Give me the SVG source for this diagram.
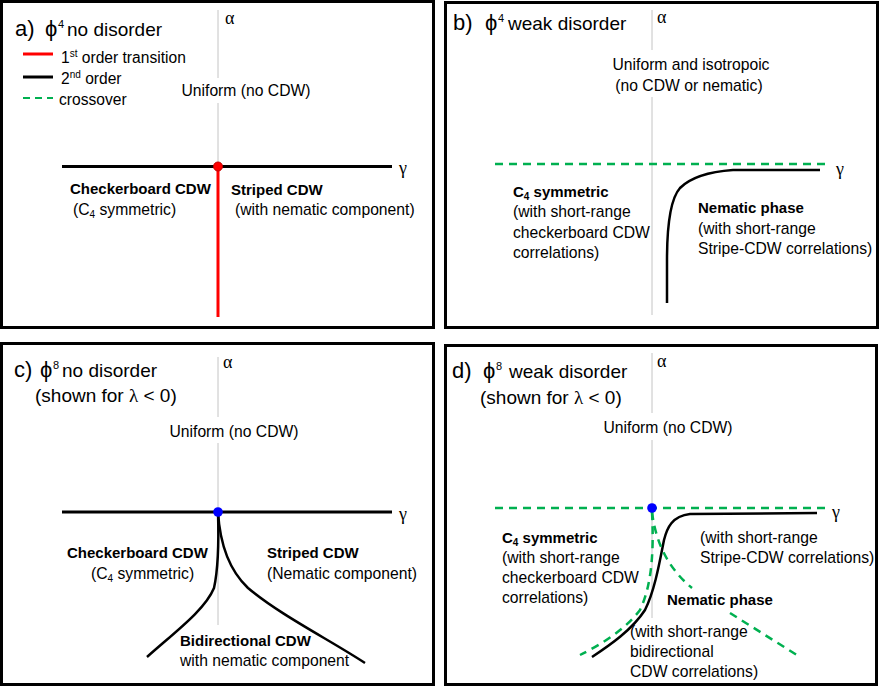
<svg xmlns="http://www.w3.org/2000/svg" width="881" height="688" viewBox="0 0 881 688">
<style>
.frame{fill:#fff;stroke:#000;stroke-width:3}
.axis{stroke:#c4c4c4;stroke-width:1;fill:none}
.line2{stroke:#000;stroke-width:3;fill:none}
.curve{stroke:#000;stroke-width:2.5;fill:none}
.red{stroke:#ff0000;stroke-width:3;fill:none}
.green{stroke:#00b050;stroke-width:2.5;fill:none;stroke-dasharray:8 6}
text{font-family:"Liberation Sans",Arial,sans-serif;fill:#000}
.title{font-size:19px}
.phi{font-size:22px}
.sup{font-size:11px}
.lab{font-size:22px}
.t{font-size:15.7px}
.b{font-size:15px;font-weight:bold}
.leg{font-size:15.6px}
.greek{font-family:"Liberation Serif","Times New Roman",serif;font-size:18px}
</style>
<rect width="881" height="688" fill="#fff"/>

<g id="panel-a">
<rect class="frame" x="1.5" y="1.5" width="432" height="326"/>
<text class="lab" x="15" y="36">a)</text>
<text class="title" x="45" y="36"><tspan class="phi">ϕ</tspan><tspan class="sup" x="58" dy="-8">4</tspan><tspan x="67" dy="8">no disorder</tspan></text>
<g id="legend-a">
<line class="red" x1="23" y1="54" x2="53" y2="54"/>
<text class="leg" x="61" y="63">1<tspan font-size="10" dy="-6">st</tspan><tspan dy="6"> order transition</tspan></text>
<line class="line2" x1="23" y1="77" x2="53" y2="77"/>
<text class="leg" x="61" y="84">2<tspan font-size="10" dy="-6">nd</tspan><tspan dy="6"> order</tspan></text>
<line x1="23" y1="98" x2="53" y2="98" stroke="#00b050" stroke-width="2" stroke-dasharray="7 5"/>
<text class="leg" x="59" y="105">crossover</text>
</g>
<line class="axis" x1="218" y1="10" x2="218" y2="78"/>
<line class="axis" x1="218" y1="103" x2="218" y2="166"/>
<text class="greek" x="225" y="24">α</text>
<text class="greek" x="399" y="174">γ</text>
<text class="t" x="246" y="96" text-anchor="middle">Uniform (no CDW)</text>
<line class="line2" x1="62" y1="166.5" x2="392" y2="166.5"/>
<line class="red" x1="218" y1="166" x2="218" y2="317"/>
<circle cx="218" cy="166.5" r="4.5" fill="#ff0000" stroke="#c00000" stroke-width="1"/>
<text class="b" x="70" y="194">Checkerboard CDW</text>
<text class="t" x="73" y="215">(C<tspan font-size="10" dy="3">4</tspan><tspan dy="-3"> symmetric)</tspan></text>
<text class="b" x="231" y="195">Striped CDW</text>
<text class="t" x="235" y="215">(with nematic component)</text>
</g>

<g id="panel-b">
<rect class="frame" x="445.5" y="2.5" width="432" height="325"/>
<text class="lab" x="453" y="30">b)</text>
<text class="title" x="485" y="30"><tspan class="phi">ϕ</tspan><tspan class="sup" x="498" dy="-8">4</tspan><tspan x="508" dy="8">weak disorder</tspan></text>
<line class="axis" x1="652" y1="10" x2="652" y2="50"/>
<line class="axis" x1="652" y1="97" x2="652" y2="315"/>
<text class="greek" x="657" y="23">α</text>
<text class="greek" x="836" y="175">γ</text>
<text class="t" x="691" y="70" text-anchor="middle">Uniform and isotropoic</text>
<text class="t" x="689" y="91" text-anchor="middle">(no CDW or nematic)</text>
<line class="green" x1="495" y1="164" x2="826" y2="164"/>
<path class="curve" d="M 820 170 L 733 170 C 705 172 688 180 680 188 C 672 197 667 220 667 260 L 667 303"/>
<text class="b" x="513" y="197">C<tspan font-size="10" dy="3">4</tspan><tspan dy="-3"> symmetric</tspan></text>
<text class="t" x="513" y="217">(with short-range</text>
<text class="t" x="513" y="238">checkerboard CDW</text>
<text class="t" x="513" y="258">correlations)</text>
<text class="b" x="698" y="213">Nematic phase</text>
<text class="t" x="698" y="234">(with short-range</text>
<text class="t" x="698" y="254">Stripe-CDW correlations)</text>
</g>

<g id="panel-c">
<rect class="frame" x="1.5" y="343.5" width="432" height="341"/>
<text class="lab" x="14" y="377">c)</text>
<text class="title" x="40" y="377"><tspan class="phi">ϕ</tspan><tspan class="sup" x="53" dy="-8">8</tspan><tspan x="62" dy="8">no disorder</tspan></text>
<text class="title" x="35" y="402">(shown for <tspan font-family="Liberation Serif, serif">λ</tspan> &lt; 0)</text>
<line class="axis" x1="218" y1="357" x2="218" y2="417"/>
<line class="axis" x1="218" y1="443" x2="218" y2="625"/>
<text class="greek" x="223" y="368">α</text>
<text class="greek" x="399" y="520">γ</text>
<text class="t" x="234" y="437" text-anchor="middle">Uniform (no CDW)</text>
<line class="line2" x1="62" y1="512" x2="392" y2="512"/>
<path class="curve" d="M 218 512 C 219 545 218 570 214 588 C 205 610 175 632 147 657"/>
<path class="curve" d="M 218 512 C 220 545 229 570 248 588 C 280 615 330 640 365 663"/>
<circle cx="218" cy="512" r="4.8" fill="#0000ff"/>
<text class="b" x="67" y="558">Checkerboard CDW</text>
<text class="t" x="91" y="579">(C<tspan font-size="10" dy="3">4</tspan><tspan dy="-3"> symmetric)</tspan></text>
<text class="b" x="267" y="558">Striped CDW</text>
<text class="t" x="267" y="579">(Nematic component)</text>
<text class="b" x="180" y="646">Bidirectional CDW</text>
<text class="t" x="180" y="666">with nematic component</text>
</g>

<g id="panel-d">
<rect class="frame" x="445.5" y="345.5" width="431" height="339"/>
<text class="lab" x="452" y="378">d)</text>
<text class="title" x="483" y="378"><tspan class="phi">ϕ</tspan><tspan class="sup" x="496" dy="-8">8</tspan><tspan x="509" dy="8">weak disorder</tspan></text>
<text class="title" x="480" y="404">(shown for <tspan font-family="Liberation Serif, serif">λ</tspan> &lt; 0)</text>
<line class="axis" x1="652" y1="353" x2="652" y2="413"/>
<line class="axis" x1="652" y1="440" x2="652" y2="618"/>
<text class="greek" x="657" y="367">α</text>
<text class="greek" x="832" y="518">γ</text>
<text class="t" x="668" y="433" text-anchor="middle">Uniform (no CDW)</text>
<line class="green" x1="495" y1="508" x2="827" y2="508"/>
<path class="curve" d="M 817 513 L 690 514 C 672 516 667 528 664 540 C 660 560 655 590 645 610 C 632 630 610 645 592 657"/>
<path class="green" d="M 652 512 C 654 550 652 585 640 610 C 625 630 600 645 580 655"/>
<path class="green" d="M 652 512 C 656 545 670 570 692 588"/>
<path class="green" d="M 730 613 L 800 657"/>
<circle cx="652" cy="508" r="4.8" fill="#0000ff"/>
<text class="b" x="502" y="543">C<tspan font-size="10" dy="3">4</tspan><tspan dy="-3"> symmetric</tspan></text>
<text class="t" x="502" y="563">(with short-range</text>
<text class="t" x="502" y="583">checkerboard CDW</text>
<text class="t" x="502" y="603">correlations)</text>
<text class="t" x="700" y="543">(with short-range</text>
<text class="t" x="700" y="563">Stripe-CDW correlations)</text>
<text class="b" x="667" y="605">Nematic phase</text>
<text class="t" x="630" y="637">(with short-range</text>
<text class="t" x="630" y="657">bidirectional</text>
<text class="t" x="630" y="677">CDW correlations)</text>
</g>
</svg>
